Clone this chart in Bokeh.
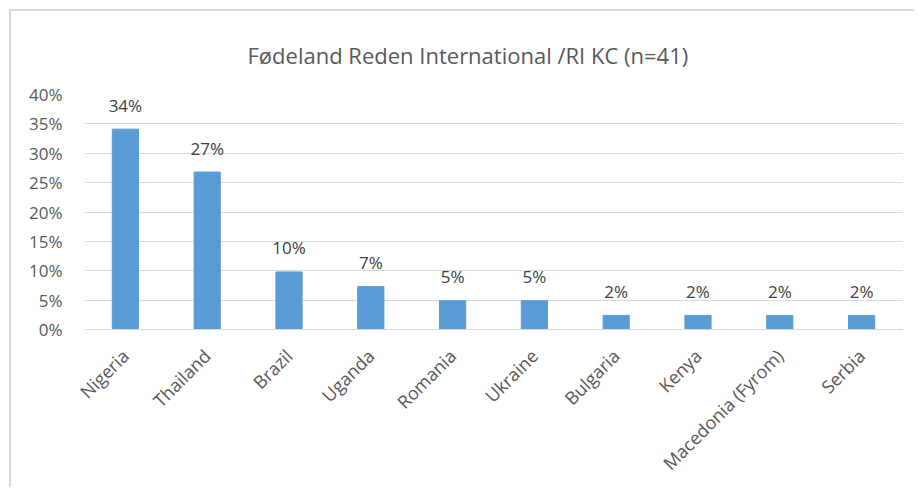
import math
from bokeh.plotting import figure
from bokeh.models import ColumnDataSource, FactorRange, Range1d, FixedTicker, PrintfTickFormatter
from bokeh.core.properties import value
from bokeh.embed import file_html
from bokeh.resources import INLINE

countries = ["Nigeria", "Thailand", "Brazil", "Uganda", "Romania", "Ukraine",
             "Bulgaria", "Kenya", "Macedonia (Fyrom)", "Serbia"]
shares = [34.1, 26.8, 9.8, 7.3, 4.9, 4.9, 2.4, 2.4, 2.4, 2.4]
share_labels = ["34%", "27%", "10%", "7%", "5%", "5%", "2%", "2%", "2%", "2%"]
y_ticks = [0, 5, 10, 15, 20, 25, 30, 35, 40]
title_text = "Fødeland Reden International /RI KC (n=41)"

FONT = "Open Sans"
TXT = "#595959"

src = ColumnDataSource(dict(x=countries, top=shares, lab=share_labels))

p = figure(width=905, height=478, x_range=FactorRange(*countries, range_padding=0),
           y_range=Range1d(0, 40), output_backend="svg", toolbar_location=None,
           min_border_left=73, min_border_right=14, min_border_top=83, min_border_bottom=160,
           title=title_text)
p.styles = {"margin-left": "9px", "margin-top": "9px",
            "border-left": "2px solid #d9d9d9", "border-top": "2px solid #d9d9d9"}
p.outline_line_color = None
p.background_fill_color = "white"
p.border_fill_color = "white"

p.title.text_font = FONT
p.title.text_font_size = "22px"
p.title.text_font_style = "normal"
p.title.text_color = TXT
p.title.align = "left"
p.title.offset = 163
p.title.standoff = 50

p.vbar(x="x", top="top", width=0.32, source=src, color="#5b9bd5")
p.text(x="x", y="top", text="lab", source=src, text_align="center", text_baseline="middle",
       y_offset=-24, text_font=value(FONT), text_font_size="17px", text_color="#404040")

p.yaxis.ticker = FixedTicker(ticks=y_ticks)
p.yaxis.formatter = PrintfTickFormatter(format="%d%%")
p.yaxis.axis_line_color = None
p.yaxis.major_tick_line_color = None
p.yaxis.minor_tick_line_color = None
p.yaxis.major_label_standoff = 16
p.yaxis.major_label_text_font = FONT
p.yaxis.major_label_text_font_size = "17px"
p.yaxis.major_label_text_color = TXT

p.xaxis.axis_line_color = "#d9d9d9"
p.xaxis.major_tick_line_color = None
p.xaxis.minor_tick_line_color = None
p.xaxis.major_label_orientation = math.pi / 4
p.xaxis.major_label_standoff = 17
p.xaxis.major_label_text_font = FONT
p.xaxis.major_label_text_font_size = "18px"
p.xaxis.major_label_text_color = TXT

p.xgrid.grid_line_color = None
p.ygrid.grid_line_color = "#d9d9d9"
p.ygrid.grid_line_width = 1

open("out.html", "w").write(file_html(p, INLINE))
